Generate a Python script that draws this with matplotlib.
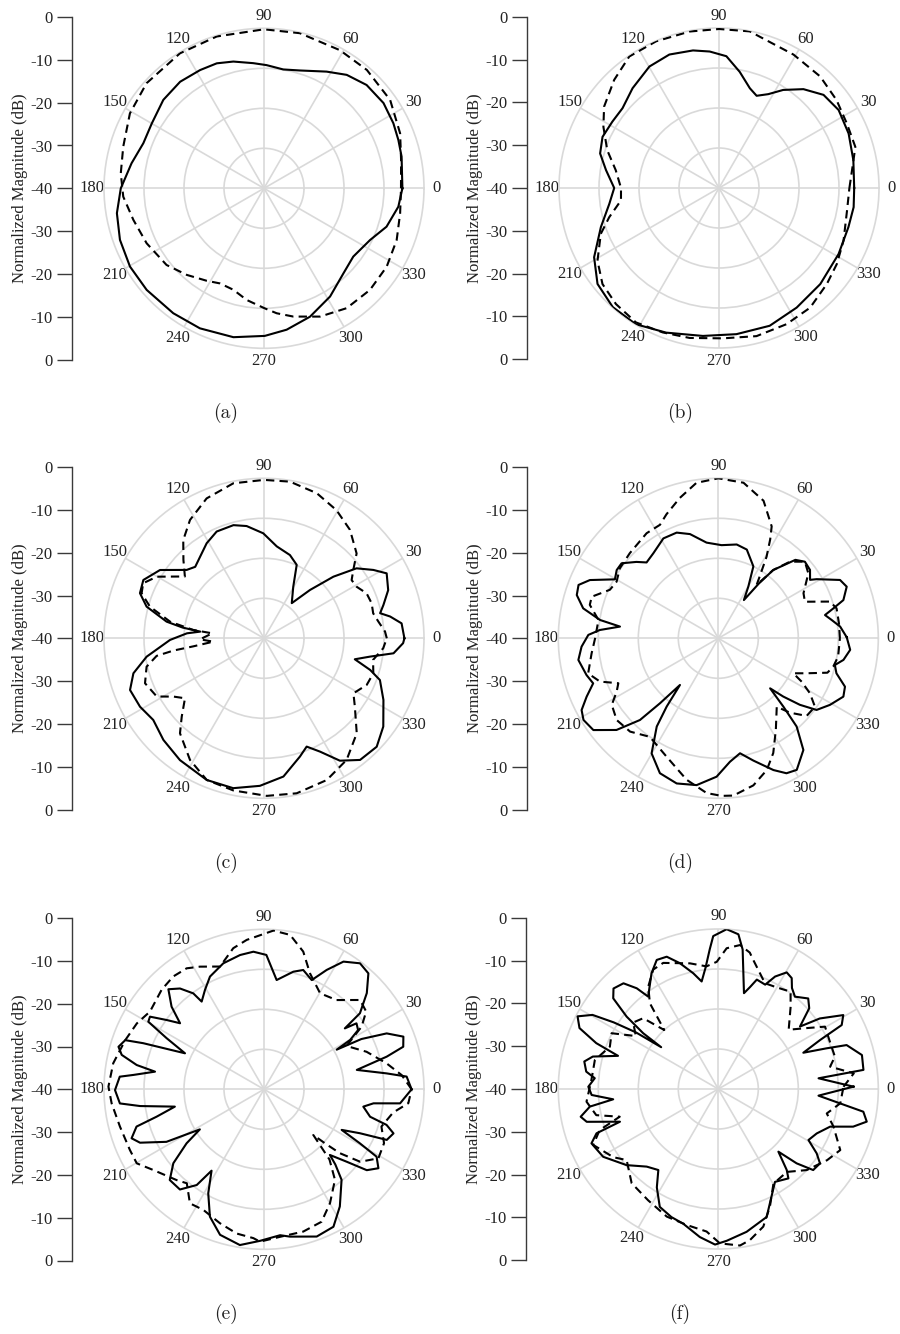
import numpy as np
import matplotlib
matplotlib.use("Agg")
import matplotlib.pyplot as plt

plt.rcParams["font.family"] = ["Liberation Serif", "DejaVu Serif"]

W, H = 900, 1334

# angular tick labels and the left magnitude scale (top -> bottom)
theta_ticks = list(range(0, 360, 30))
theta_labels = [str(t) for t in theta_ticks]
mag_labels = ["0", "-10", "-20", "-30", "-40", "-30", "-20", "-10", "0"]
ring_levels = [-30, -20, -10]

# (angle in degrees, normalized magnitude in dB)
a_solid = [(0, -5.4), (13, -4.7), (19.8, -4.3), (26.7, -3.8), (35.5, -3.3), (45.2, -3.6), (53.9, -4.9),
           (61.8, -6.9), (73, -9.2), (80.8, -9.9), (88.8, -9.2), (94.9, -8.6), (103.6, -7.4), (110.7, -6.6),
           (118.4, -6.4), (128.2, -6.1), (138.7, -6.5), (150, -7.6), (159.5, -7.8), (169.3, -6.3), (180, -4.2),
           (189.6, -2.7), (199.7, -1.75), (210.3, -1.2), (220.9, -1.2), (234, -1.4), (245.4, -1.5),
           (258.4, -2.0), (270.3, -3.1), (279.1, -4.2), (289.7, -5.9), (301.4, -8.3), (313, -10.9),
           (322.6, -11.9), (334, -10.5), (342.6, -7.9), (352.2, -6.1)]
a_dash = [(0, -5.75), (11.7, -5.0), (22, -3.3), (35, -1.5), (49, -0.8), (61.2, -0.6), (77, -0.2), (90, -0.25),
          (107.3, -0.25), (121.9, -0.25), (138.2, -0.6), (150.8, -1.6), (163.5, -3.3), (174, -4.0),
          (183.4, -4.75), (193.6, -6.4), (205.1, -7.6), (218.2, -9.0), (228.3, -11.0), (238.2, -12.8),
          (245.2, -13.8), (253.2, -13.5), (261.2, -11.75), (270.3, -10.0), (275.8, -8.6), (282.9, -7.1),
          (293.6, -5.0), (304.6, -3.6), (316.2, -3.3), (327.4, -3.6), (338.7, -4.4), (349.6, -5.4)]

b_solid = [(0, -6.2), (11.7, -5.7), (22.8, -4.85), (33.1, -4.3), (41.7, -5.0), (49.5, -7.5), (56.8, -10.7),
           (62.3, -13.5), (67.8, -15.1), (72.8, -13.9), (79.9, -10.5), (86.8, -7.0), (93.9, -5.8),
           (100.7, -5.0), (110.4, -4.4), (119.8, -5.0), (130.9, -7.0), (140.4, -8.7), (148.1, -8.6),
           (156.3, -8.2), (163.8, -9.05), (171, -11.4), (180, -13.8), (188.2, -12.3), (198.3, -8.9),
           (209, -4.3), (218.3, -1.3), (228.3, -0.1), (238.6, -0.1), (249.9, -1.5), (263.8, -2.8),
           (276.8, -3.2), (290.2, -3.3), (303, -4.35), (316.5, -5.1), (331.1, -5.85), (343.2, -6.2),
           (351.9, -6.0)]
b_dash = [(0, -7.4), (10.3, -5.95), (16.8, -4.4), (26.8, -4.2), (36.8, -3.3), (47.8, -2.35), (60.8, -1.8),
          (78.9, -0.1), (90, -0.25), (100.6, -0.2), (113.2, -0.1), (124.3, -0.2), (134.1, -2.35),
          (144.7, -4.8), (152.1, -7.3), (161.3, -10.5), (170.2, -13.8), (180, -15.5), (187.2, -15.3),
          (194.9, -11.6), (201.2, -8.3), (210.9, -4.6), (219.5, -2.25), (228.4, -1.2), (238.3, -0.5),
          (248.7, -1.25), (258.9, -1.8), (271.5, -2.4), (284.2, -1.8), (296.4, -2.0), (307.3, -2.4),
          (318.3, -3.9), (327.2, -4.95), (337.1, -6.2), (350, -7.5)]

c_solid = [(0, -4.9), (6.2, -5.4), (9.8, -8.0), (12.2, -10.3), (15.6, -9.0), (21.2, -6.7), (27.9, -5.3),
           (32, -7.75), (37.1, -11), (41.6, -16.8), (46.4, -23.3), (51.7, -28.8), (60.4, -25.2), (66, -19.9),
           (72.7, -18.2), (82.1, -16.8), (90.4, -13.75), (98.8, -11.6), (105.1, -10.7), (113.9, -10.8),
           (121.1, -12.25), (128.1, -14.1), (133.9, -15.2), (138.5, -14.2), (146.7, -8.9), (154.2, -6.5),
           (160, -7.0), (164.9, -9.6), (170.3, -15.3), (172.5, -19.5), (174, -24), (176.3, -20.7),
           (181, -16.5), (188.9, -10.3), (195, -6.2), (201.1, -4.1), (208.9, -4.6), (216.4, -5.6),
           (225.3, -4.25), (235.4, -3.0), (248, -1.8), (258.4, -1.75), (268.4, -3.1), (278, -5.1),
           (286.9, -9.1), (291.5, -10.9), (296.3, -8.4), (301.8, -4.0), (308.3, -1.25), (316.1, -0.9),
           (323.5, -2.9), (332.7, -6.4), (340.2, -9.2), (343.4, -12.3), (347, -16.7), (350.2, -13.1),
           (353.4, -7.4), (358, -5.2)]
c_dash = [(0, -9.3), (3.2, -9.7), (8.3, -11.1), (12.9, -12), (18, -11.7), (23.7, -12), (29.1, -13.5),
          (33.6, -13.7), (37.4, -11.9), (42.5, -8.6), (51.6, -5.4), (60.5, -3.2), (70, -1.4), (80.6, -0.3),
          (90, -0.4), (101.2, -0.5), (112.3, -2.2), (122, -5.1), (129.4, -8.2), (135.8, -11.9), (142, -14.9),
          (146.7, -11.9), (150.1, -9.1), (155.5, -6.8), (159.8, -7.4), (164.5, -10.4), (170, -16.2),
          (173.3, -22.2), (174.5, -27), (180.9, -24), (183.8, -27.3), (186.5, -22.2), (187.7, -17.2),
          (189.3, -12.8), (193.6, -9.8), (200.7, -8.2), (208.5, -9.5), (212.8, -13.1), (217.2, -15.2),
          (223.6, -11.6), (228.5, -8.3), (238.7, -4.4), (248, -1.8), (258.6, -1.2), (271, -0.6),
          (281.9, -0.4), (293.9, -1.25), (304.2, -3.25), (314.3, -6.8), (323.1, -11.6), (328.4, -13.75),
          (335.6, -11.8), (342.2, -11.3), (348.8, -12.2), (355.2, -10.1)]

d_solid = [(0.5, -7.9), (5.5, -9.4), (9.2, -11.3), (12.3, -12.7), (14.6, -10.25), (17, -7.3), (21.9, -5.4),
           (25.6, -6.25), (31, -11.3), (32.5, -12.8), (36.7, -11.4), (41.5, -11.1), (45.5, -12.5),
           (51.2, -18.1), (53.5, -23), (56.2, -28.5), (59.9, -25), (64, -20), (72.2, -16.7), (78.9, -16.1),
           (88, -16.7), (97, -15.9), (105.2, -13), (111.5, -11.6), (118.8, -11.5), (127.4, -13.25),
           (133.4, -13.9), (137, -12), (142.2, -9.4), (146.1, -9.4), (150.3, -10.25), (155.6, -4.75),
           (159.1, -2.6), (163, -3), (167.5, -5.4), (171.2, -10.1), (173.2, -15.25), (176, -10.3),
           (178.5, -7.5), (183.5, -5.75), (188.8, -4.6), (195.6, -5.8), (199.8, -6.75), (203.9, -4),
           (207.7, -1.4), (211.2, -0.6), (216.3, -1.25), (222, -5.75), (226.2, -11.7), (228.1, -18.2),
           (230.6, -24.9), (232.9, -18.6), (235.1, -13.1), (239.9, -6.75), (246.6, -3.25), (254, -2.25),
           (261.6, -2.9), (269.3, -5.4), (275.4, -9), (280.7, -10.75), (286, -8.2), (292.7, -4.3),
           (296.8, -2.2), (300.8, -1.7), (307.3, -4.9), (311.6, -10.5), (313.6, -16.4), (316, -22),
           (318.1, -18.2), (320.8, -13.7), (323.9, -9.6), (329.2, -7.5), (335, -5.5), (339.1, -6.1),
           (343.5, -9.2), (347.1, -10.1), (350.2, -8.25), (355, -6.9)]
d_dash = [(0, -9.6), (7.1, -9.6), (14.2, -9.5), (18.2, -10.6), (22.9, -16.5), (27.9, -15.9), (35.8, -12.25),
          (41.5, -11.1), (46.9, -13.75), (51.2, -18.1), (54.3, -23.6), (56.5, -21), (59.4, -16.3),
          (62.3, -12.1), (64.5, -9), (71.8, -3.8), (80.8, -0.6), (90, 0), (98, -0.75), (105.3, -3.6),
          (112.7, -6.4), (117.2, -8.1), (124.3, -8.2), (136.1, -9.3), (144.6, -9.8), (150.9, -10.9),
          (155.9, -10.3), (161.8, -6.7), (165.4, -6.8), (171.3, -9.7), (180, -9.2), (186.8, -8.1),
          (195.1, -6.3), (200.1, -8.5), (204.2, -12.6), (207.7, -11.3), (212, -8.6), (218.8, -7.4),
          (226.6, -7.9), (235.2, -10), (246.4, -7.7), (257.4, -3.75), (265.7, -1.2), (271.2, -0.6),
          (275.5, -0.5), (283.4, -2.2), (290.2, -4.9), (295.6, -8.2), (302.2, -13), (310.5, -17.5),
          (313.9, -14.2), (318.7, -10.6), (324.7, -10.4), (329, -13.25), (332.5, -16.5), (335, -19.3),
          (338.4, -16.25), (342.5, -11.4), (346.2, -10.4), (351.3, -9.7)]

e_solid = [(0, -3.1), (5.1, -4.2), (7.4, -9.1), (11.8, -16.3), (14.9, -8.25), (17, -3.6), (20.7, -2.75),
           (24.5, -6.3), (27.3, -12.6), (28.6, -19.3), (29.8, -15.2), (32.2, -12.2), (35.5, -11.6),
           (37, -14.7), (38.4, -9.4), (43.1, -4.8), (48, -1), (52.7, -0.4), (58.1, -2.4), (62.3, -6.3),
           (66.4, -10.2), (71.8, -8.6), (76, -9.7), (83.4, -12.5), (89, -6.4), (94.4, -5.5), (100.1, -5.9),
           (107.9, -6.9), (115.6, -8.75), (120.7, -11.1), (125.4, -13.1), (126.4, -10.2), (129.8, -7.2),
           (133.7, -5.4), (138.2, -9), (141.8, -13.3), (144.5, -10.2), (147.5, -6.2), (149.7, -6.5),
           (152.3, -12.5), (155.5, -18.3), (159.1, -7.7), (160.5, -3.2), (163.7, -2.1), (166.4, -3.4),
           (169.2, -7.6), (170.8, -12.4), (173.7, -7.2), (175, -3.8), (180.3, -2.75), (185.6, -3.8),
           (187.7, -8.75), (191, -17.3), (194.3, -12.3), (196.3, -6.8), (200.3, -4.7), (203.3, -6.25),
           (208.3, -12.3), (212, -21.1), (214.9, -16.4), (219.2, -10.75), (223.9, -7.3), (230, -7.3),
           (234.9, -10.75), (237.2, -15.8), (241.8, -10.5), (247, -5.4), (253.2, -2.0), (261.2, -0.6),
           (268.5, -2.1), (276.3, -3.3), (280, -2.6), (289.7, -0.9), (296.8, -1.5), (302.9, -5.1),
           (310.6, -10.2), (313.5, -14.1), (315.1, -16.75), (318.8, -12.5), (321.8, -7.3), (325.4, -5.25),
           (329.1, -7.2), (330.6, -12.5), (332.4, -18.1), (335.4, -13.6), (337.6, -6.8), (341.2, -5.8),
           (343.8, -8.1), (345.5, -12.6), (350.1, -14.8), (352.7, -12.4), (354.1, -5.8)]
e_dash = [(0, -3.1), (5.9, -5.4), (12, -8.7), (20.1, -12.7), (27.7, -16.7), (32.7, -11), (37.3, -7.9),
          (42.9, -7.2), (50.9, -11.25), (59.7, -12.2), (68.4, -8.8), (74.1, -4.2), (80.4, -0.85),
          (86.6, -0.25), (96.6, -2.4), (102.3, -3.9), (109.7, -7.4), (117.6, -5.4), (122.6, -4.1),
          (128.8, -3.8), (135.8, -4.3), (145.7, -5.5), (152.6, -4.2), (160.5, -3.2), (170.2, -1.75),
          (179, -1.1), (185.3, -1.75), (194.5, -2.8), (204.4, -3.2), (210.2, -3.2), (216.1, -5.75),
          (226.1, -8.5), (230.6, -9.6), (237, -6), (243.3, -6.25), (251.8, -4.75), (259.3, -3.3),
          (265.9, -2.7), (268.5, -1.9), (276.2, -2.9), (285.4, -3.1), (293.5, -3.9), (300.1, -7.1),
          (308.1, -11.25), (313, -16), (317.2, -23.2), (318.5, -19.5), (319.9, -15.2), (323, -9.9),
          (328.9, -6.6), (335.8, -7.1), (342.4, -9.2), (349.8, -7.2), (354.5, -3.75)]

f_solid = [(1, -6.2), (6.1, -14.8), (7.5, -3.4), (13.3, -3.1), (18.9, -6.1), (20.6, -11.1), (23.1, -16.9),
           (25.7, -11.75), (27.4, -5.25), (30.6, -3.7), (34.8, -9.1), (37.4, -14.3), (41.6, -9.6),
           (45.2, -8.1), (50.3, -10), (53.9, -8.75), (56.5, -6.75), (59.6, -6.2), (63.2, -8.5), (65.8, -11.4),
           (70.6, -11), (72.7, -13.3), (75, -15.2), (80.1, -4.6), (82.6, -1.0), (87, 0), (91.9, -1.75),
           (93.5, -5), (96, -9.5), (98.8, -12.8), (102.2, -10.4), (107, -7.1), (111.3, -4.5), (115.5, -4.25),
           (120, -6.6), (127.2, -11), (129, -7.6), (131.9, -4.5), (136.2, -3.7), (139.2, -5.3),
           (141.7, -10.8), (143.4, -16.6), (143.8, -22.3), (145.5, -15), (147.5, -9), (149.5, -3.5),
           (152.7, -0.4), (156.3, -2.1), (159.4, -7.4), (161.7, -13.6), (165.5, -7.6), (168.4, -5.8),
           (172.5, -6.7), (175, -9), (179, -7.5), (182.7, -8.3), (185.6, -13.6), (187.8, -7.6),
           (191.4, -4.9), (194, -6.1), (198.4, -14.1), (200, -7.6), (203.2, -5.5), (210.5, -6.6),
           (219.7, -10.2), (227.3, -13.6), (233.5, -14.8), (238, -11), (243.6, -7.1), (249.9, -5.9),
           (255.4, -5.2), (262.9, -2.7), (268.8, -1.1), (273.2, -2.0), (281.2, -3.6), (290.7, -5.8),
           (296.3, -10), (301.4, -12.8), (308.1, -11.6), (310.2, -13.5), (313.8, -18.3), (316.5, -13),
           (319.5, -8.8), (323.8, -8.5), (326.8, -10.6), (330.5, -14.1), (335.7, -13), (341.4, -10.5),
           (344.4, -5), (347.6, -2.0), (351.1, -3.3), (356.2, -14.9)]
f_dash = [(1, -8.7), (6.6, -5.9), (11.3, -11.5), (15.5, -9.75), (23, -9.7), (30.3, -9.1), (35.5, -13.9),
          (40.1, -17), (48.7, -12.6), (53.4, -9.7), (60.1, -10.7), (66.2, -11.1), (69.5, -9.6),
          (74.8, -6.6), (77, -5), (81.4, -3.6), (86.6, -4.75), (90.7, -8.2), (95.5, -9.2), (102.7, -7.8),
          (113.6, -5.6), (118.6, -6), (124.4, -9), (128.6, -12.6), (132.5, -20), (136.7, -14.2), (142, -13),
          (147.3, -15.5), (152.4, -9.9), (158.7, -10.9), (166.8, -8.3), (175.9, -8.2), (185.5, -6.9),
          (192.1, -8.8), (195.7, -14.4), (199.1, -8.6), (204.1, -5.75), (213, -8.7), (217.8, -11),
          (227.4, -8), (237.8, -7.1), (248, -5.6), (256.9, -5.1), (265.3, -4.25), (270.6, -1.4),
          (277.9, -0.5), (281.8, -1.4), (288.1, -3.8), (293.7, -7.9), (300.2, -12.6), (309.6, -13.1),
          (317.5, -10), (326.8, -7.5), (333.4, -5.9), (341.9, -9.7), (347.3, -12.2), (353.3, -9.3)]

# caption, polar centre (px), x of the magnitude spine, caption x
panels = [
    ("(a)", a_solid, a_dash, 264.0, 188.3, 72.0, 226),
    ("(b)", b_solid, b_dash, 719.0, 188.0, 526.7, 680),
    ("(c)", c_solid, c_dash, 264.0, 638.3, 72.0, 226),
    ("(d)", d_solid, d_dash, 718.3, 638.3, 526.7, 680),
    ("(e)", e_solid, e_dash, 264.0, 1089.3, 71.7, 226),
    ("(f)", f_solid, f_dash, 718.3, 1089.0, 526.0, 680),
]

R = 160.0          # polar radius in px
HALF = 171.2       # half length of the magnitude scale in px
GRID = "#d9d9d9"
TXT = "#222222"
FS = 12


def closed(curve):
    arr = np.array(curve + curve[:1], dtype=float)
    return np.deg2rad(arr[:, 0]), arr[:, 1]


fig = plt.figure(figsize=(W / 100, H / 100), dpi=100)

for cap, solid, dash, cx, cy, sx, capx in panels:
    ax = fig.add_axes([(cx - R) / W, (H - cy - R) / H, 2 * R / W, 2 * R / H], projection="polar")
    ax.set_theta_zero_location("E")
    ax.set_theta_direction(1)
    ax.set_ylim(-40, 0)
    ax.set_yticks(ring_levels)
    ax.set_yticklabels([])
    ax.set_xticks(np.deg2rad(theta_ticks))
    ax.set_xticklabels(theta_labels)
    ax.tick_params(axis="x", pad=2, labelsize=FS, labelcolor=TXT, length=0)
    ax.tick_params(axis="y", length=0)
    ax.grid(True, color=GRID, linewidth=1.2)
    ax.spines["polar"].set_color(GRID)
    ax.spines["polar"].set_linewidth(1.2)

    th, r = closed(solid)
    ax.plot(th, r, color="black", lw=1.5, zorder=3, solid_joinstyle="round")
    th, r = closed(dash)
    ax.plot(th, r, color="black", lw=1.5, ls=(0, (4, 2.5)), zorder=3, dash_joinstyle="round")

    # separate magnitude scale on the left
    lax = fig.add_axes([sx / W, (H - cy - HALF) / H, 0.02, 2 * HALF / H])
    lax.set_ylim(len(mag_labels) - 1, 0)
    lax.set_yticks(range(len(mag_labels)))
    lax.set_yticklabels(mag_labels)
    lax.set_xticks([])
    for s in ["top", "right", "bottom"]:
        lax.spines[s].set_visible(False)
    lax.spines["left"].set_color("#3a3a3a")
    lax.spines["left"].set_linewidth(1.0)
    lax.tick_params(axis="y", direction="out", length=10.8, width=1.0, pad=3,
                    labelsize=FS, color="#3a3a3a", labelcolor=TXT)
    lax.patch.set_visible(False)

    fig.text((sx - 52) / W, (H - cy) / H, "Normalized Magnitude (dB)", rotation=90,
             ha="center", va="center", fontsize=FS, color=TXT)
    fig.text(capx / W, (H - cy - 225) / H, cap, ha="center", va="center",
             fontsize=14, family="cmr10", color=TXT)

fig.savefig("out.png", dpi=100)
